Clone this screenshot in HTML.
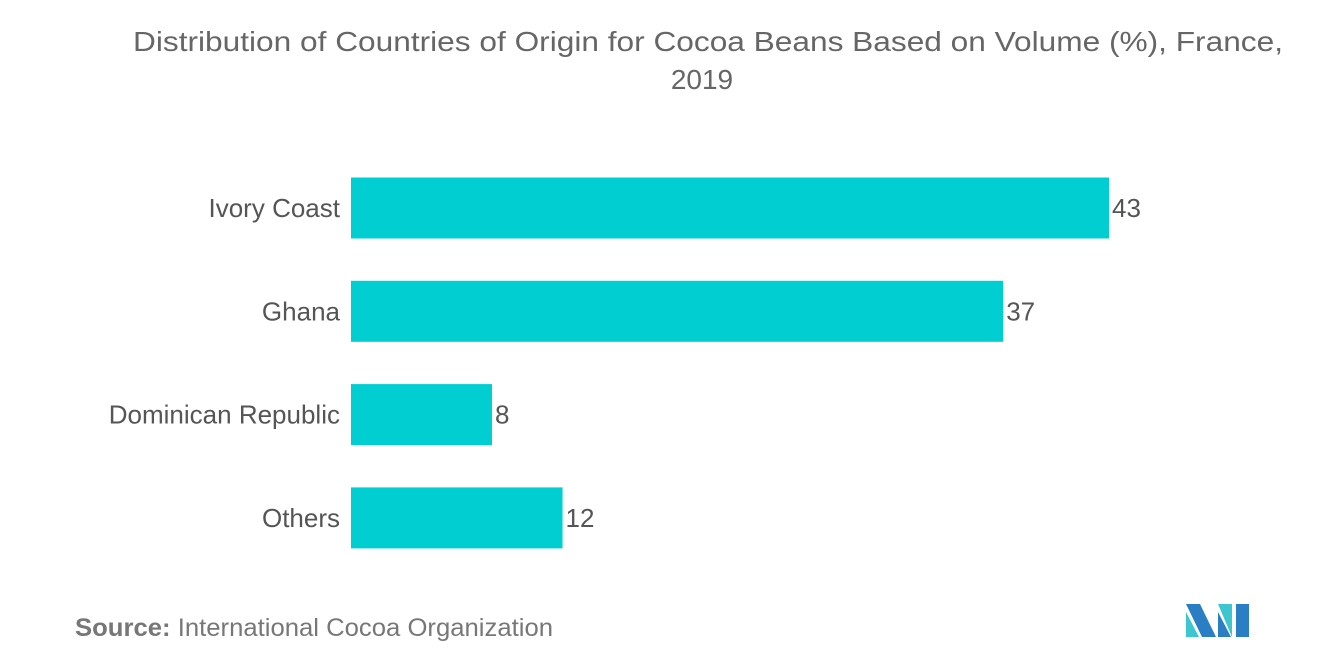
<!DOCTYPE html>
<html><head><meta charset="utf-8"><style>
body{margin:0;width:1320px;height:665px;background:#fff;font-family:"Liberation Sans",sans-serif;overflow:hidden}
</style></head><body>
<svg width="1320" height="665" xmlns="http://www.w3.org/2000/svg">
<text x="133" y="51" textLength="1150" lengthAdjust="spacingAndGlyphs" font-size="28" fill="#666">Distribution of Countries of Origin for Cocoa Beans Based on Volume (%), France,</text>
<text x="702" y="89" text-anchor="middle" font-size="28" fill="#666">2019</text>
<g id="bars"></g>
<text x="75" y="636" textLength="478" lengthAdjust="spacingAndGlyphs" font-size="25" fill="#777"><tspan font-weight="bold">Source:</tspan>  International Cocoa Organization</text>
<g>
<polygon points="1186,604 1200,604 1216,637 1202,637" fill="#2a7fc4"/>
<polygon points="1186,612 1199,637 1186,637" fill="#3cc6cf"/>
<polygon points="1218,604 1232,604 1232,637" fill="#3cc6cf"/>
<polygon points="1236,604 1249,604 1249,637 1236,637" fill="#2a7fc4"/>
<polygon points="1218,612 1231,637 1218,637" fill="#2a7fc4"/>
</g>
</svg>
<script>
const categories=["Ivory Coast","Ghana","Dominican Republic","Others"];
const values=[43,37,8,12];
const x0=351, scale=758/43, y0=208, step=103.3, bh=61;
const xs=v=>x0+v*scale, ys=i=>y0+i*step;
const g=document.getElementById('bars');
const ns="http://www.w3.org/2000/svg";
categories.forEach((c,i)=>{
  const r=document.createElementNS(ns,'rect');
  r.setAttribute('x',x0);r.setAttribute('y',ys(i)-bh/2);
  r.setAttribute('width',xs(values[i])-x0);r.setAttribute('height',bh);
  r.setAttribute('fill','#00ced1');
  
  
  g.appendChild(r);
  const l=document.createElementNS(ns,'text');
  l.setAttribute('x',340);l.setAttribute('y',ys(i)+9);
  l.setAttribute('text-anchor','end');l.setAttribute('font-size','26');l.setAttribute('fill','#555');
  l.textContent=c;
  
  
  g.appendChild(l);
  const v=document.createElementNS(ns,'text');
  v.setAttribute('x',xs(values[i])+3);v.setAttribute('y',ys(i)+9);
  v.setAttribute('font-size','26');v.setAttribute('fill','#555');
  v.textContent=values[i];
  
  
  g.appendChild(v);
});
</script>
</body></html>
